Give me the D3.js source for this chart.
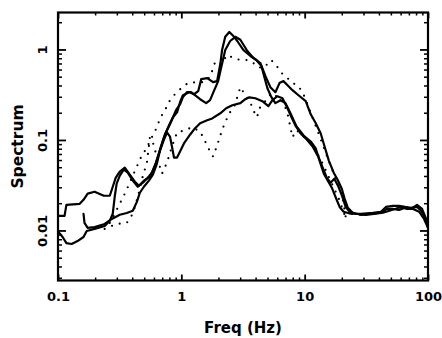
<!DOCTYPE html>
<html><head><meta charset="utf-8">
<script src="https://cdn.jsdelivr.net/npm/d3@7"></script>
<style>
html,body{margin:0;padding:0;background:#fff;}
svg{display:block;}
text{font-family:"DejaVu Sans",sans-serif;font-weight:bold;fill:#000;}
</style></head>
<body><svg id="c" width="442" height="338"></svg>
<script>
// ---- data ----
const xMajorTicks = [0.1, 1, 10, 100];
const xTickLabels = ["0.1", "1", "10", "100"];
const xMinorTicks = [0.2,0.3,0.4,0.5,0.6,0.7,0.8,0.9,2,3,4,5,6,7,8,9,20,30,40,50,60,70,80,90];
const yMajorTicks = [0.01, 0.1, 1];
const yTickLabels = ["0.01", "0.1", "1"];
const yMinorTicks = [0.003,0.004,0.005,0.006,0.007,0.008,0.009,0.02,0.03,0.04,0.05,0.06,0.07,0.08,0.09,0.2,0.3,0.4,0.5,0.6,0.7,0.8,0.9,2];
const xTitle = "Freq (Hz)";
const yTitle = "Spectrum";

// solid line A (sharp peak)
const freqA = [0.101,0.113,0.117,0.150,0.161,0.174,0.198,0.235,0.263,0.278,0.294,0.317,0.348,0.382,0.420,0.453,0.497,0.556,0.611,0.646,0.684,0.737,0.794,0.856,0.923,0.976,1.03,1.16,1.27,1.37,1.45,1.62,1.81,1.95,2.07,2.14,2.27,2.45,2.64,2.84,3.18,3.63,4.06,4.46,4.71,4.99,5.37,5.79,6.37,6.99,7.67,8.59,9.80,11.2,12.3,13.2,14.3,15.4,16.6,17.9,19.2,20.7,23.6,28.6,35.7,41.5,45.6,52.0,58.2,65.2,72.8,81.5,87.9,94.7,100];
const specA = [0.0145,0.0145,0.0192,0.0197,0.0218,0.0255,0.0268,0.0242,0.0242,0.0304,0.0383,0.0447,0.0495,0.0414,0.0346,0.0312,0.0355,0.0393,0.0508,0.0656,0.0848,0.115,0.145,0.178,0.202,0.261,0.312,0.337,0.320,0.346,0.470,0.482,0.435,0.447,0.690,0.987,1.38,1.56,1.41,1.24,0.987,0.847,0.764,0.656,0.495,0.373,0.297,0.255,0.275,0.255,0.197,0.141,0.112,0.0962,0.0805,0.0592,0.0424,0.0355,0.0297,0.0230,0.0182,0.0161,0.0153,0.0153,0.0157,0.0161,0.0182,0.0187,0.0187,0.0182,0.0178,0.0182,0.0165,0.0138,0.0109];

// solid line B (rounded peak)
const freqB = [0.161,0.164,0.174,0.198,0.239,0.273,0.317,0.361,0.404,0.436,0.461,0.497,0.546,0.588,0.634,0.671,0.710,0.750,0.809,0.856,0.905,0.976,1.03,1.11,1.20,1.29,1.42,1.59,1.71,1.85,1.99,2.10,2.27,2.49,2.74,3.01,3.43,3.84,4.37,4.81,5.27,5.79,6.25,6.73,7.26,7.96,8.91,10.2,11.2,12.3,13.5,14.5,15.7,17.2,18.5,20.0,21.1,22.4,24.5,28.6,34.4,41.5,46.5,52.0,58.2,65.2,72.8,81.5,89.5,96.6,100];
const specB = [0.0153,0.0121,0.0107,0.0109,0.0118,0.0134,0.0149,0.0156,0.0165,0.0207,0.0261,0.0304,0.0355,0.0414,0.0548,0.0764,0.0987,0.121,0.149,0.178,0.213,0.248,0.297,0.337,0.337,0.312,0.282,0.255,0.275,0.355,0.447,0.623,0.987,1.24,1.38,1.28,0.962,0.805,0.708,0.508,0.383,0.337,0.425,0.447,0.403,0.355,0.312,0.268,0.192,0.153,0.118,0.0848,0.0592,0.0435,0.0364,0.0289,0.0224,0.0178,0.0157,0.0149,0.0153,0.0157,0.0173,0.0173,0.0169,0.0178,0.0173,0.0192,0.0173,0.0134,0.0109];

// solid line C (low broad)
const freqC = [0.101,0.109,0.117,0.129,0.144,0.161,0.171,0.198,0.239,0.263,0.278,0.289,0.299,0.317,0.341,0.368,0.404,0.444,0.488,0.535,0.577,0.622,0.671,0.723,0.765,0.809,0.839,0.872,0.923,0.976,1.05,1.18,1.27,1.42,1.62,1.78,2.07,2.31,2.59,3.01,3.30,3.56,3.98,4.54,5.08,5.48,6.01,6.61,7.26,7.82,8.40,9.26,10.4,11.6,13.0,14.0,15.1,16.2,17.4,18.8,20.2,21.5,23.2,25.9,31.3,37.8,43.1,48.6,53.9,60.4,67.6,75.7,84.7,92.9,100];
const specC = [0.00962,0.00847,0.00726,0.00708,0.00764,0.00847,0.00987,0.0104,0.0112,0.0128,0.0153,0.0242,0.0329,0.0403,0.0470,0.0435,0.0355,0.0304,0.0337,0.0383,0.0435,0.0562,0.0764,0.101,0.121,0.109,0.0848,0.0639,0.0639,0.0745,0.0915,0.115,0.131,0.153,0.165,0.173,0.197,0.224,0.242,0.255,0.282,0.296,0.289,0.268,0.236,0.275,0.304,0.289,0.224,0.178,0.145,0.118,0.101,0.0848,0.0639,0.0495,0.0383,0.0337,0.0373,0.0304,0.0236,0.0182,0.0161,0.0153,0.0149,0.0153,0.0157,0.0165,0.0173,0.0182,0.0173,0.0173,0.0161,0.0134,0.0107];

// dotted line 1 (upper)
const freqD1 = [0.263,0.305,0.348,0.382,0.428,0.470,0.526,0.577,0.634,0.671,0.737,0.809,0.872,0.958,1.13,1.34,1.51,1.71,1.88,2.07,2.36,2.64,3.01,3.43,3.84,4.14,4.63,5.36,6.01,6.37,7.26,7.96,8.75,9.62,10.4,11.4,12.5,13.7,15.1,16.6,17.9,19.2,20.4,21.5,23.6,28.6];
const specD1 = [0.0121,0.0178,0.0255,0.0337,0.0482,0.0639,0.0826,0.107,0.138,0.173,0.213,0.275,0.312,0.355,0.425,0.435,0.435,0.495,0.726,0.673,0.869,0.805,0.764,0.764,0.708,0.639,0.623,0.764,0.639,0.562,0.482,0.425,0.403,0.337,0.261,0.187,0.134,0.0962,0.0673,0.0482,0.0373,0.0289,0.0225,0.0141,0.0153,0.0149];

// dotted line 2 (lower, ragged)
const freqD2 = [0.239,0.299,0.361,0.404,0.444,0.488,0.526,0.556,0.588,0.646,0.697,0.765,0.839,0.923,1.07,1.22,1.42,1.56,1.71,1.81,1.95,2.07,2.23,2.45,2.69,2.84,3.01,3.30,3.56,3.91,4.11,4.30,4.87,5.36,5.90,6.61,7.26,7.96,8.59,9.62,10.8,12.3,14.0,16.2,18.8,21.5];
const specD2 = [0.0104,0.0118,0.0121,0.0153,0.0236,0.0403,0.0562,0.107,0.0938,0.0592,0.0424,0.0562,0.0848,0.121,0.128,0.138,0.124,0.0962,0.0745,0.0656,0.0868,0.112,0.149,0.197,0.236,0.296,0.383,0.312,0.275,0.202,0.178,0.224,0.275,0.329,0.304,0.275,0.197,0.107,0.128,0.112,0.0962,0.0764,0.0548,0.0355,0.0230,0.0138];

// ---- drawing ----
const W = 442, H = 338;
const L = 58, R = 428, T = 12.5, B = 280.5;
const svg = d3.select("#c");
svg.append("rect").attr("width", W).attr("height", H).attr("fill", "#fff");

const x = d3.scaleLog().domain([0.1, 100]).range([L, R]);
const y = d3.scaleLog().domain([0.0028, 2.56]).range([B, T]);

const line = d3.line().x(d => x(d[0])).y(d => y(d[1]));
const plot = svg.append("g");
plot.append("clipPath").attr("id", "clip").append("rect")
  .attr("x", L).attr("y", T).attr("width", R - L).attr("height", B - T);
const lines = plot.append("g").attr("clip-path", "url(#clip)");

const solid = [[freqA, specA], [freqB, specB], [freqC, specC]];
solid.forEach(([f, s]) => {
  lines.append("path").attr("d", line(d3.zip(f, s)))
    .attr("fill", "none").attr("stroke", "#000").attr("stroke-width", 2.2)
    .attr("stroke-linejoin", "round").attr("stroke-linecap", "round");
});
const dotted = [[freqD1, specD1], [freqD2, specD2]];
dotted.forEach(([f, s]) => {
  lines.append("path").attr("d", line(d3.zip(f, s)))
    .attr("fill", "none").attr("stroke", "#000").attr("stroke-width", 2.2)
    .attr("stroke-dasharray", "0 8").attr("stroke-linecap", "round");
});

function styleAxis(g, w) {
  g.selectAll(".domain").remove();
  g.selectAll(".tick line").attr("stroke", "#000").attr("stroke-width", w);
}
// bottom
const gb = svg.append("g").attr("transform", `translate(0,${B})`);
gb.call(d3.axisBottom(x).tickValues(xMinorTicks).tickSize(-3).tickSizeOuter(0).tickFormat(""));
styleAxis(gb, 1.5);
const gbM = svg.append("g").attr("transform", `translate(0,${B})`);
gbM.call(d3.axisBottom(x).tickValues(xMajorTicks).tickSize(-6).tickSizeOuter(0)
  .tickFormat((d, i) => xTickLabels[i]));
styleAxis(gbM, 1.8);
gbM.selectAll("text").attr("y", 20).attr("dy", null).attr("font-size", 13)
  .attr("font-family", "DejaVu Sans").attr("font-weight", "bold");
// top
const gt = svg.append("g").attr("transform", `translate(0,${T})`);
gt.call(d3.axisTop(x).tickValues(xMinorTicks).tickSize(-3).tickSizeOuter(0).tickFormat(""));
styleAxis(gt, 1.5);
const gtM = svg.append("g").attr("transform", `translate(0,${T})`);
gtM.call(d3.axisTop(x).tickValues(xMajorTicks).tickSize(-6).tickSizeOuter(0).tickFormat(""));
styleAxis(gtM, 1.8);
// left
const gl = svg.append("g").attr("transform", `translate(${L},0)`);
gl.call(d3.axisLeft(y).tickValues(yMinorTicks).tickSize(-4).tickSizeOuter(0).tickFormat(""));
styleAxis(gl, 1.5);
const glM = svg.append("g").attr("transform", `translate(${L},0)`);
glM.call(d3.axisLeft(y).tickValues(yMajorTicks).tickSize(-8).tickSizeOuter(0)
  .tickFormat((d, i) => yTickLabels[i]));
styleAxis(glM, 1.8);
glM.selectAll("text").attr("x", null).attr("dy", null)
  .attr("transform", "translate(-11.5,0) rotate(-90)").attr("text-anchor", "middle")
  .attr("font-size", 13).attr("font-family", "DejaVu Sans").attr("font-weight", "bold");
// right
const gr = svg.append("g").attr("transform", `translate(${R},0)`);
gr.call(d3.axisRight(y).tickValues(yMinorTicks).tickSize(-4).tickSizeOuter(0).tickFormat(""));
styleAxis(gr, 1.5);
const grM = svg.append("g").attr("transform", `translate(${R},0)`);
grM.call(d3.axisRight(y).tickValues(yMajorTicks).tickSize(-8).tickSizeOuter(0).tickFormat(""));
styleAxis(grM, 1.8);

// frame
svg.append("rect").attr("x", L).attr("y", T).attr("width", R - L).attr("height", B - T)
  .attr("fill", "none").attr("stroke", "#000").attr("stroke-width", 2.2);

// titles
svg.append("text").attr("x", (L + R) / 2).attr("y", 332.5).attr("text-anchor", "middle")
  .attr("font-size", 15).text(xTitle);
svg.append("text").attr("transform", `translate(22.5,${(T + B) / 2}) rotate(-90)`)
  .attr("text-anchor", "middle").attr("font-size", 15.5).text(yTitle);
</script>
</body></html>
